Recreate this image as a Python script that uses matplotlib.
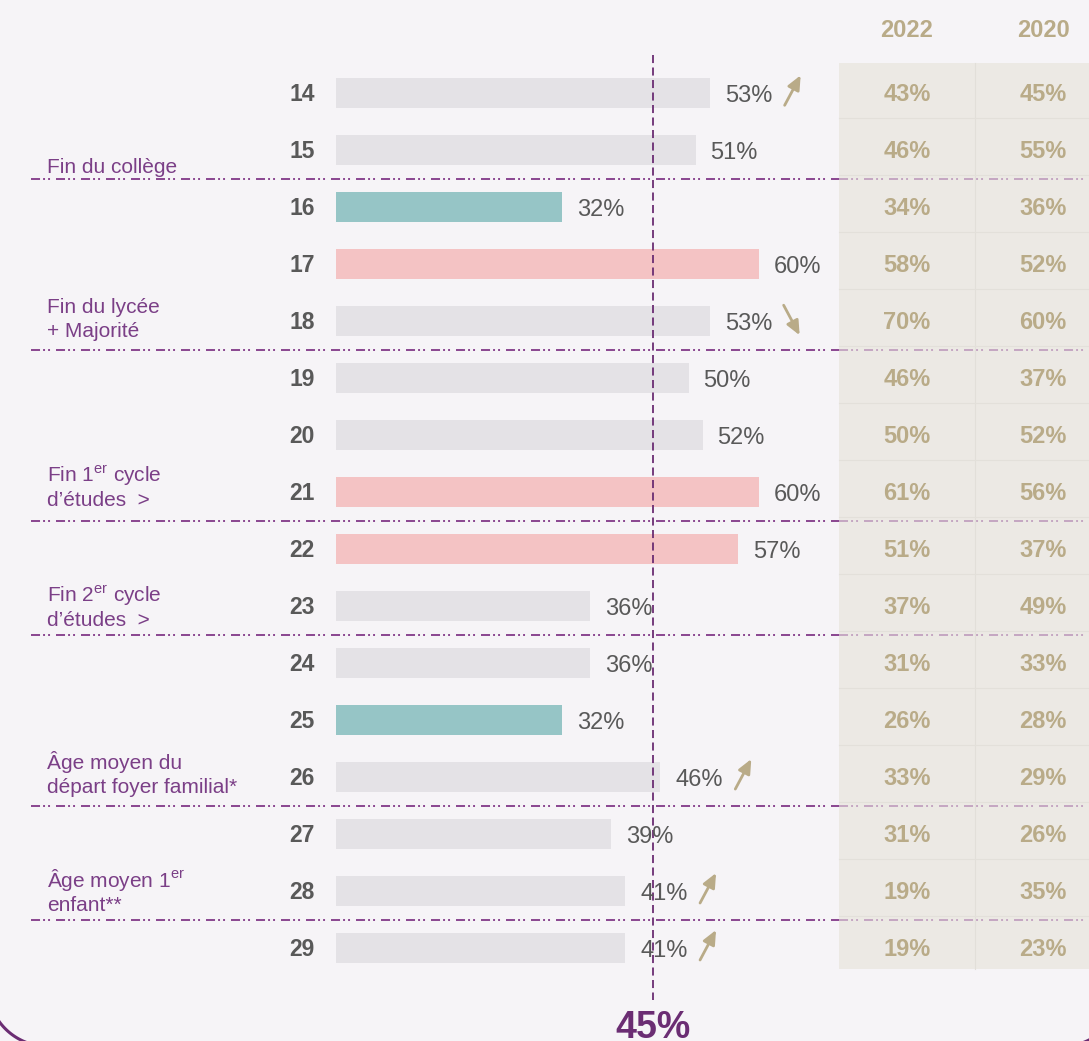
import matplotlib
matplotlib.use("Agg")
import numpy as np
import matplotlib.pyplot as plt
from matplotlib.patches import Rectangle

plt.rcParams['font.family'] = ['Liberation Sans', 'DejaVu Sans']
plt.rcParams['mathtext.fontset'] = 'custom'
plt.rcParams['mathtext.rm'] = 'Liberation Sans'
plt.rcParams['lines.scale_dashes'] = False

# ---------------- data ----------------
ages = [14, 15, 16, 17, 18, 19, 20, 21, 22, 23, 24, 25, 26, 27, 28, 29]
values_2024 = [53, 51, 32, 60, 53, 50, 52, 60, 57, 36, 36, 32, 46, 39, 41, 41]
highlight = ['', '', 'low', 'high', '', '', '', 'high', 'high', '', '', 'low', '', '', '', '']
trend = ['up', '', '', '', 'down', '', '', '', '', '', '', '', 'up', '', 'up', 'up']
values_2022 = [43, 46, 34, 58, 70, 46, 50, 61, 51, 37, 31, 26, 33, 31, 19, 19]
values_2020 = [45, 55, 36, 52, 60, 37, 52, 56, 37, 49, 33, 28, 29, 26, 35, 23]
years = ['2022', '2020']
average = 45
separators_after = [15, 18, 21, 23, 26, 28]
group_labels = [
    (["Fin du collège"], 173),
    (["Fin du lycée", "+ Majorité"], 313),
    ([r"Fin 1$^{\rm er}$ cycle", "d’études  >"], 482),
    ([r"Fin 2$^{\rm er}$ cycle", "d’études  >"], 602),
    (["Âge moyen du", "départ foyer familial*"], 769),
    ([r"Âge moyen 1$^{\rm er}$", "enfant**"], 887),
]

# ---------------- style ----------------
W, H = 1089, 1041
BG = '#f6f4f7'
TABLE_BG = '#ece9e4'
GREY_BAR = '#e4e2e6'
TEAL = '#96c5c6'
PINK = '#f4c3c4'
TXT = '#595959'
TAN = '#b9ab88'
PURPLE = '#7b3f87'
PURPLE_D = '#6b2d73'
SEP = '#8a4690'

X0, SX = 336.0, 7.05   # px of 0%, px per 1%
Y0, SY = 93.3, 56.98   # px of first row, px per row


def X(px):
    return (px - X0) / SX


def Y(py):
    return (py - Y0) / SY


fig = plt.figure(figsize=(W / 100, H / 100), dpi=100, facecolor=BG)
ax = fig.add_axes([0, 0, 1, 1])
ax.set_facecolor(BG)
ax.set_xlim(X(0), X(W))
ax.set_ylim(Y(H), Y(0))
ax.axis('off')

rows = list(range(len(ages)))
dy_txt = 1.5 / SY

# table background
ax.add_patch(Rectangle((X(839), Y(63)), X(1089) - X(839), Y(969) - Y(63),
                       facecolor=TABLE_BG, edgecolor='none', zorder=0))
ax.plot([X(975), X(975)], [Y(63), Y(969)], color='#e2dfd9', lw=0.8, zorder=1)
for r in rows[:-1]:
    yy = Y(Y0 + SY * (r + 0.5) - 4)
    ax.plot([X(839), X(1089)], [yy, yy], color='#e3e0da', lw=0.8, zorder=1)

# separators
dash = (0, (6.5, 2.2, 1.4, 2.2, 1.4, 4.3))
for a in separators_after:
    r = ages.index(a)
    yy = r + 0.5
    ax.plot([X(31), X(839)], [yy, yy], color=SEP, lw=1.4, linestyle=dash, zorder=2)
    ax.plot([X(839), X(1089)], [yy, yy], color='#c4a6c2', lw=1.4, linestyle=dash, zorder=2)

# bars
cmap = {'': GREY_BAR, 'low': TEAL, 'high': PINK}
ax.barh(rows, values_2024, height=30 / SY, left=0,
        color=[cmap[h] for h in highlight], zorder=3)

# average line
ax.plot([average, average], [Y(55), Y(1000)], color=PURPLE_D, lw=1.3,
        linestyle=(0, (5.8, 3.2)), zorder=4)
ax.text(average, Y(1028), f"{average}%", ha='center', va='center',
        fontsize=27, fontweight='bold', color=PURPLE_D, zorder=5)

# labels
for r, a, v, t in zip(rows, ages, values_2024, trend):
    ax.text(X(315), r + dy_txt, str(a), ha='right', va='center', fontsize=16.5,
            fontweight='bold', color=TXT, zorder=5)
    ax.text(v + 15 / SX, r + 3 / SY, f"{v}%", ha='left', va='center', fontsize=17,
            color=TXT, zorder=5)
    if t:
        bx = X0 + v * SX
        if t == 'up':
            tail = (X(bx + 75), Y(Y0 + SY * r + 12))
            head = (X(bx + 91), Y(Y0 + SY * r - 18))
        else:
            tail = (X(bx + 74), Y(Y0 + SY * r - 16))
            head = (X(bx + 90), Y(Y0 + SY * r + 14))
        ax.annotate('', xy=head, xytext=tail, zorder=6,
                    arrowprops=dict(arrowstyle='-|>,head_length=0.85,head_width=0.38',
                                    lw=2.0, color=TAN, shrinkA=0, shrinkB=0))

# table values
for r, v1, v2 in zip(rows, values_2022, values_2020):
    ax.text(X(907), r + dy_txt, f"{v1}%", ha='center', va='center', fontsize=17,
            fontweight='bold', color=TAN, zorder=5)
    ax.text(X(1043), r + dy_txt, f"{v2}%", ha='center', va='center', fontsize=17,
            fontweight='bold', color=TAN, zorder=5)
for yr, px in zip(years, [907, 1043]):
    ax.text(X(px), Y(30), yr, ha='center', va='center', fontsize=17,
            fontweight='bold', color=TAN, zorder=5)

# group labels
for lines, base in group_labels:
    for k, line in enumerate(lines):
        ax.text(X(47), Y(base + 24 * k), line, ha='left', va='baseline',
                fontsize=15, color=PURPLE, zorder=5)

# frame (rounded corners, mostly outside the picture)
ax2 = fig.add_axes([0, 0, 1, 1])
ax2.set_xlim(0, W)
ax2.set_ylim(H, 0)
ax2.axis('off')
ax2.patch.set_alpha(0)
R = 60
cyc = 986.4
phi = np.linspace(0, np.pi / 2, 60)
# bottom-left corner
ax2.plot(47.8 - R * np.cos(phi), cyc + R * np.sin(phi), color=PURPLE_D, lw=2.2)
# bottom-right corner
ax2.plot(1062 + R * np.cos(phi), cyc + R * np.sin(phi), color=PURPLE_D, lw=2.2)

fig.savefig('out.png', dpi=100, facecolor=BG)
